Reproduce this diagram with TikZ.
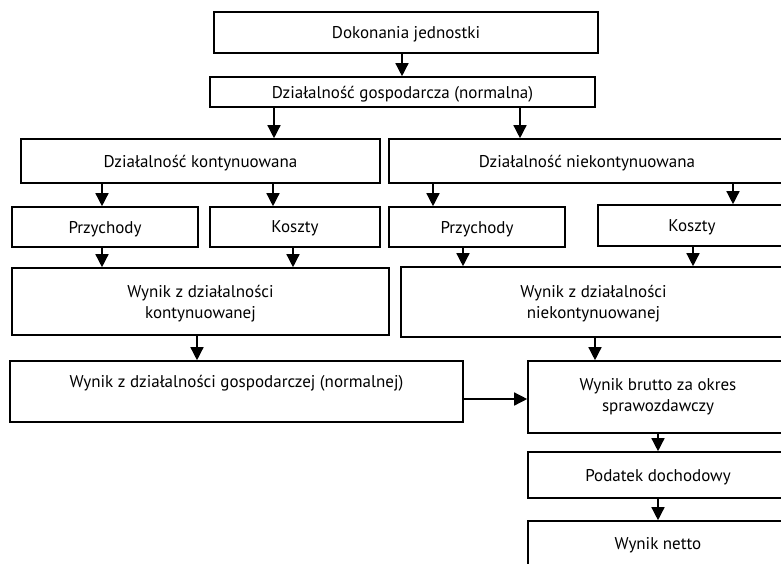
\documentclass[tikz,border=0pt]{standalone}
\usepackage{fontspec}
\setmainfont{PT Sans}
\usetikzlibrary{arrows.meta}
\begin{document}
\begin{tikzpicture}[x=1pt,y=-1pt,
  box/.style={draw=black,line width=1.6pt,inner sep=0pt,align=center,
    text depth=0pt,font=\fontsize{17}{21}\selectfont},
  arr/.style={line width=1.4pt,-{Triangle[width=13pt,length=13pt]}}]
\useasboundingbox (0,0) rectangle (781,563);
\clip (0,0) rectangle (781,563);
% boxes (centre, width, height)
\node[box,minimum width=384pt,minimum height=41pt] (D)  at (406,32.5) {Dokonania jednostki};
\node[box,minimum width=385pt,minimum height=30pt] (DG) at (402.5,92) {Działalność gospodarcza (normalna)};
\node[box,minimum width=359pt,minimum height=44pt] (DK) at (200.5,161) {Działalność kontynuowana};
\node[box,minimum width=396pt,minimum height=44pt] (DN) at (587,161) {Działalność niekontynuowana};
\node[box,minimum width=186pt,minimum height=40pt] (P1) at (105,227) {Przychody};
\node[box,minimum width=170pt,minimum height=40pt] (K1) at (295,227) {Koszty};
\node[box,minimum width=176pt,minimum height=40pt] (P2) at (477,227) {Przychody};
\node[box,minimum width=188pt,minimum height=41pt] (K2) at (692,225.5) {Koszty};
\node[box,minimum width=377pt,minimum height=67pt] (W1) at (200.5,301.5) {Wynik z działalności\\kontynuowanej};
\node[box,minimum width=385pt,minimum height=70pt] (W2) at (593.5,302) {Wynik z działalności\\niekontynuowanej};
\node[box,minimum width=453pt,minimum height=61pt] (WG) at (236.5,391.5) {Wynik z działalności gospodarczej (normalnej)\\\mbox{}};
\node[box,text depth=5pt,minimum width=260pt,minimum height=72pt] (WB) at (658,397) {Wynik brutto za okres\\sprawozdawczy};
\node[box,minimum width=260pt,minimum height=46pt] (PD) at (658,475) {Podatek dochodowy};
\node[box,minimum width=260pt,minimum height=44pt] (WN) at (658,543) {Wynik netto};
% x positions of the connectors
\coordinate (x1) at (402,0);
\coordinate (x2) at (274,0);
\coordinate (x3) at (520,0);
\coordinate (x4) at (102,0);
\coordinate (x5) at (273,0);
\coordinate (x6) at (433,0);
\coordinate (x7) at (733,0);
\coordinate (x8) at (102,0);
\coordinate (x9) at (293,0);
\coordinate (x10) at (463,0);
\coordinate (x11) at (693,0);
\coordinate (x12) at (197,0);
\coordinate (x13) at (595,0);
\coordinate (yh) at (0,399);
% connectors
\draw[arr] (D.south -| x1) -- (DG.north -| x1);
\draw[arr] (DG.south -| x2) -- (DK.north -| x2);
\draw[arr] (DG.south -| x3) -- (DN.north -| x3);
\draw[arr] (DK.south -| x4) -- (P1.north -| x4);
\draw[arr] (DK.south -| x5) -- (K1.north -| x5);
\draw[arr] (DN.south -| x6) -- (P2.north -| x6);
\draw[arr] (DN.south -| x7) -- (K2.north -| x7);
\draw[arr] (P1.south -| x8) -- (W1.north -| x8);
\draw[arr] (K1.south -| x9) -- (W1.north -| x9);
\draw[arr] (P2.south -| x10) -- (W2.north -| x10);
\draw[arr] (K2.south -| x11) -- (W2.north -| x11);
\draw[arr] (W1.south -| x12) -- (WG.north -| x12);
\draw[arr] (W2.south -| x13) -- (WB.north -| x13);
\draw[arr] (WG.east |- yh) -- (WB.west |- yh);
\draw[arr] (WB.south) -- (PD.north);
\draw[arr] (PD.south) -- (WN.north);
\end{tikzpicture}
\end{document}
